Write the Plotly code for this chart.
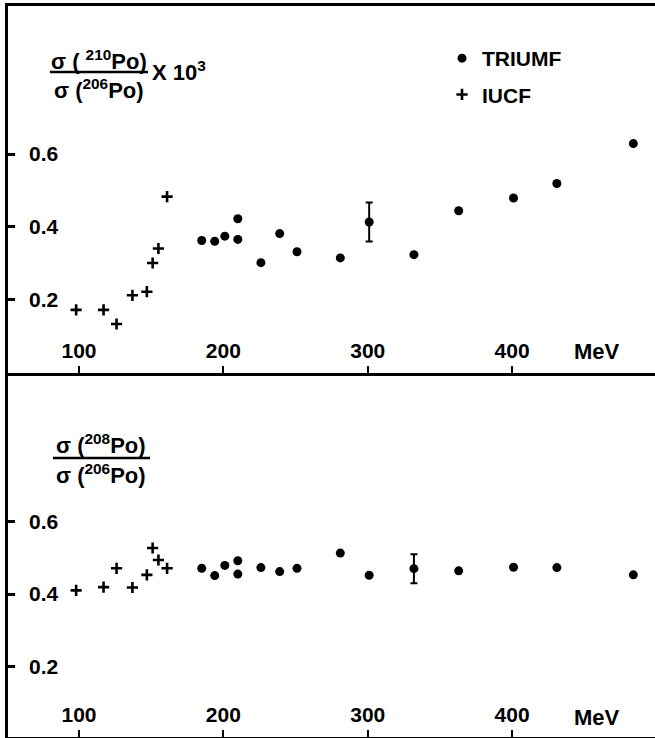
import plotly.graph_objects as go

# ---------------- data ----------------
triumf_E = [185, 194, 201, 210, 210, 226, 239, 251, 281, 301, 332, 363, 401, 431, 484]
iucf_E = [98, 117, 126, 137, 147, 151, 155, 161]

# top panel: sigma(210Po)/sigma(206Po) x 10^3
top_triumf = [0.362, 0.360, 0.374, 0.422, 0.365, 0.301, 0.381, 0.331,
              0.314, 0.413, 0.323, 0.444, 0.479, 0.519, 0.629]
top_triumf_err = [None, None, None, None, None, None, None, None,
                  None, 0.054, None, None, None, None, None]
top_iucf = [0.171, 0.171, 0.132, 0.211, 0.221, 0.300, 0.340, 0.483]

# bottom panel: sigma(208Po)/sigma(206Po)
bot_triumf = [0.471, 0.451, 0.479, 0.492, 0.455, 0.473, 0.462, 0.471,
              0.513, 0.452, 0.470, 0.464, 0.474, 0.473, 0.453]
bot_triumf_err = [None, None, None, None, None, None, None, None,
                  None, None, 0.040, None, None, None, None]
bot_iucf = [0.410, 0.419, 0.471, 0.418, 0.453, 0.527, 0.494, 0.471]

x_ticks = [100, 200, 300, 400]
x_ticktext = ["100", "200", "300", "400"]
y_ticks = [0.2, 0.4, 0.6]
y_ticktext = ["0.2", "0.4", "0.6"]

# ---------------- layout geometry ----------------
W, H = 655, 738
FONT = "Liberation Sans"


def py(px):
    return 1 - px / H


def pxx(px):
    return px / W


fig = go.Figure()

circle = dict(symbol="circle", size=9, color="black")
cross = dict(symbol="cross-thin", size=8, color="black",
             line=dict(color="black", width=2.6))
err_style = dict(type="data", visible=True, color="black", thickness=2, width=3.5)

fig.add_trace(go.Scatter(x=triumf_E, y=top_triumf, mode="markers", name="TRIUMF",
                         marker=circle, legendgroup="a", legendrank=1,
                         error_y=dict(array=top_triumf_err, **err_style),
                         xaxis="x", yaxis="y"))
fig.add_trace(go.Scatter(x=iucf_E, y=top_iucf, mode="markers", name="IUCF",
                         marker=cross, legendgroup="b", legendrank=2,
                         xaxis="x", yaxis="y"))
fig.add_trace(go.Scatter(x=triumf_E, y=bot_triumf, mode="markers", name="TRIUMF",
                         marker=circle, showlegend=False,
                         error_y=dict(array=bot_triumf_err, **err_style),
                         xaxis="x2", yaxis="y2"))
fig.add_trace(go.Scatter(x=iucf_E, y=bot_iucf, mode="markers", name="IUCF",
                         marker=cross, showlegend=False,
                         xaxis="x2", yaxis="y2"))
# transparent companions so that the label-only y axes are rendered
fig.add_trace(go.Scatter(x=triumf_E, y=top_triumf, mode="markers", showlegend=False,
                         marker=dict(opacity=0), hoverinfo="skip",
                         xaxis="x", yaxis="y3"))
fig.add_trace(go.Scatter(x=triumf_E, y=bot_triumf, mode="markers", showlegend=False,
                         marker=dict(opacity=0), hoverinfo="skip",
                         xaxis="x2", yaxis="y4"))

xdom = [pxx(8), 1.0]
xrange_ = [50.8, 499]
top_dom = [py(373), py(6)]
bot_dom = [py(737), py(373)]
top_range = [-0.003, 1.008]
bot_range = [0.0055, 1.01]

tick_font = dict(family=FONT, size=21, color="black", weight="bold")

common_x = dict(domain=xdom, range=xrange_, tickmode="array", tickvals=x_ticks,
                ticktext=x_ticktext, ticks="inside", ticklen=7, tickwidth=2,
                tickcolor="black", showline=True, linewidth=2.5, linecolor="black",
                ticklabelposition="inside", showgrid=False, zeroline=False,
                tickfont=tick_font, ticklabelstandoff=5)
# visible axis line + ticks (labels drawn by the companion label axis)
common_y = dict(tickmode="array", tickvals=y_ticks, showticklabels=False,
                ticks="inside", ticklen=7, tickwidth=2.5, tickcolor="black",
                showline=True, linewidth=2.5, linecolor="black",
                showgrid=False, zeroline=False)
# companion axis that only carries the tick labels, inside the frame
label_y = dict(tickmode="array", tickvals=y_ticks, ticktext=y_ticktext,
               side="right", anchor="free", position=pxx(28), ticks="",
               showline=False, showgrid=False, zeroline=False, tickfont=tick_font)

fig.update_layout(
    width=W, height=H,
    margin=dict(l=0, r=0, t=0, b=0),
    paper_bgcolor="white", plot_bgcolor="white",
    xaxis=dict(anchor="y", mirror=True, **common_x),
    yaxis=dict(anchor="x", domain=top_dom, range=top_range, **common_y),
    xaxis2=dict(anchor="y2", **common_x),
    yaxis2=dict(anchor="x2", domain=bot_dom, range=bot_range, **common_y),
    yaxis3=dict(overlaying="y", domain=top_dom, range=top_range, **label_y),
    yaxis4=dict(overlaying="y2", domain=bot_dom, range=bot_range, **label_y),
    showlegend=True,
    legend=dict(x=pxx(442), y=py(38), xanchor="left", yanchor="top",
                bgcolor="rgba(0,0,0,0)", traceorder="grouped", tracegroupgap=6,
                font=dict(family=FONT, size=21, color="black", weight="bold"),
                itemwidth=30),
)

label_font = dict(family=FONT, size=22, color="black", weight="bold")
annotations = [
    # top panel y label (fraction)
    dict(text="σ ( <sup>210</sup>Po)", x=pxx(99), y=py(60), xref="paper", yref="paper",
         xanchor="center", yanchor="middle", showarrow=False, font=label_font),
    dict(text="σ (<sup>206</sup>Po)", x=pxx(99), y=py(89), xref="paper", yref="paper",
         xanchor="center", yanchor="middle", showarrow=False, font=label_font),
    dict(text="X 10<sup>3</sup>", x=pxx(150), y=py(71), xref="paper", yref="paper",
         xanchor="left", yanchor="middle", showarrow=False, font=label_font),
    # bottom panel y label (fraction)
    dict(text="σ (<sup>208</sup>Po)", x=pxx(101), y=py(444), xref="paper", yref="paper",
         xanchor="center", yanchor="middle", showarrow=False, font=label_font),
    dict(text="σ (<sup>206</sup>Po)", x=pxx(101), y=py(474), xref="paper", yref="paper",
         xanchor="center", yanchor="middle", showarrow=False, font=label_font),
    # units
    dict(text="MeV", x=459, y=py(351), xref="x", yref="paper", xanchor="center",
         yanchor="middle", showarrow=False, font=label_font),
    dict(text="MeV", x=459, y=py(717), xref="x2", yref="paper", xanchor="center",
         yanchor="middle", showarrow=False, font=label_font),
]
fig.update_layout(annotations=annotations)

fig.add_shape(type="line", xref="paper", yref="paper", x0=pxx(50), x1=pxx(148),
              y0=py(72), y1=py(72), line=dict(color="black", width=2.5))
fig.add_shape(type="line", xref="paper", yref="paper", x0=pxx(53), x1=pxx(150),
              y0=py(458), y1=py(458), line=dict(color="black", width=2.5))

fig.write_html("out.html",
               config={"displayModeBar": False},
               post_script="document.body.style.margin='0';"
                           "document.body.style.overflow='hidden';")
